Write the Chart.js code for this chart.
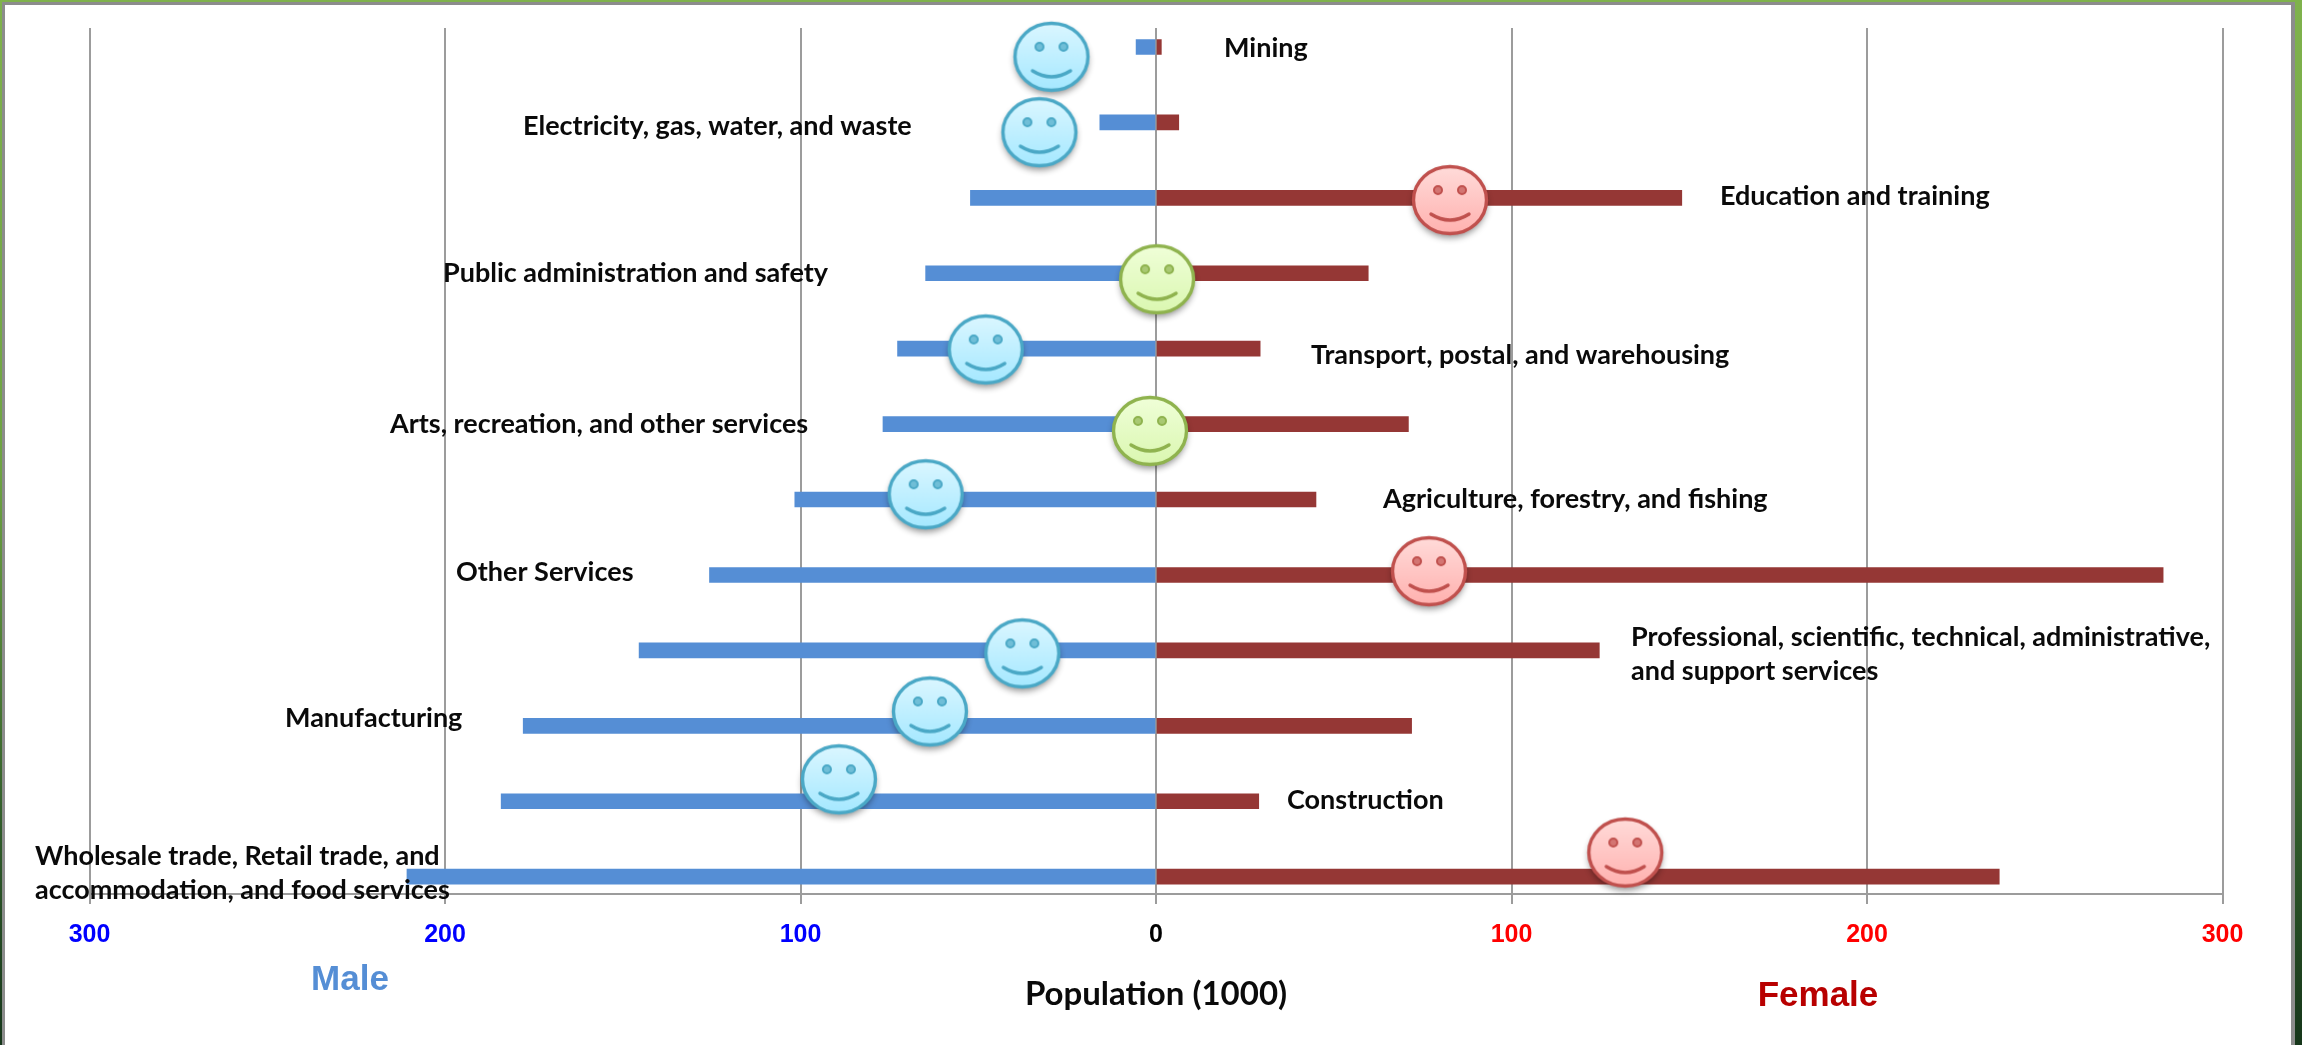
<!DOCTYPE html>
<html>
<head>
<meta charset="utf-8">
<title>Population by industry</title>
<script src="https://cdn.jsdelivr.net/npm/chart.js@4/dist/chart.umd.min.js"></script>
<style>
    html, body { margin: 0; padding: 0; }
    body {
        width: 2302px; height: 1045px; position: relative; overflow: hidden;
        background: linear-gradient(#7fb24c 0%, #6ea343 45%, #2f5a2a 80%, #16361a 100%);
    }
    #panel {
        position: absolute; left: 2px; top: 2px; width: 2286px; height: 1043px;
        background: #fff; border: solid #8c8c8c; border-width: 3px 4px 0 3px;
    }
    #chart { position: absolute; left: 0; top: 0; }
</style>
</head>
<body>
<div id="panel"></div>
<canvas id="chart" width="2302" height="1045"></canvas>
<script>
const industries = [
    "Mining",
    "Electricity, gas, water, and waste",
    "Education and training",
    "Public administration and safety",
    "Transport, postal, and warehousing",
    "Arts, recreation, and other services",
    "Agriculture, forestry, and fishing",
    "Other Services",
    "Professional, scientific, technical, administrative,|and support services",
    "Manufacturing",
    "Construction",
    "Wholesale trade, Retail trade, and|accommodation, and food services"
];
const maleValues = [5.6, 15.8, 52.2, 64.8, 72.7, 76.8, 101.6, 125.6, 145.4, 178, 184.2, 210.7];
const femaleValues = [1.5, 6.4, 147.9, 59.7, 29.3, 71, 45, 283.3, 124.7, 71.9, 28.9, 237.2];

// smiley faces sit on or near the bars, tone says who dominates the row
const smileyValues = [-29.4, -32.8, 82.7, 0.3, -47.9, -1.7, -64.8, 76.8, -37.6, -63.6, -89.2, 132];
const smileyRows = [0.13, 1.13, 2.03, 3.08, 4.01, 5.09, 5.93, 6.95, 8.04, 8.81, 9.71, 10.68];
const smileyTones = ["blue", "blue", "red", "green", "blue", "green", "blue", "red", "blue", "blue", "blue", "red"];

const axisTicks = [-300, -200, -100, 0, 100, 200, 300];

// left edge and vertical middle of each row label, in page pixels
const labelLeft = [1224, 523, 1720, 443, 1311, 390, 1383, 456, 1631, 285, 1287, 35];
const labelMiddle = [48, 126, 196, 273, 355, 424, 499, 572, 637, 718, 800, 856];
const labelLineGap = 34;

const faceColors = {
    blue: { line: "#4aa8c6", top: "#dcf7ff", bottom: "#a4e8ff" },
    red: { line: "#c0504d", top: "#ffdcda", bottom: "#ffb0ae" },
    green: { line: "#8fb34e", top: "#f0ffd9", bottom: "#daf7b0" }
};

function makeFace(tone) {
    const c = faceColors[tone];
    const face = document.createElement("canvas");
    face.width = 110;
    face.height = 100;
    const g = face.getContext("2d");
    g.translate(55, 50);

    const fill = g.createLinearGradient(0, -35, 0, 35);
    fill.addColorStop(0, c.top);
    fill.addColorStop(1, c.bottom);

    g.save();
    g.shadowColor = "rgba(0,0,0,0.45)";
    g.shadowBlur = 7;
    g.shadowOffsetY = 4;
    g.beginPath();
    g.ellipse(0, 0, 36.5, 33.5, 0, 0, Math.PI * 2);
    g.fillStyle = fill;
    g.fill();
    g.restore();

    g.strokeStyle = c.line;
    g.lineWidth = 3.4;
    g.beginPath();
    g.ellipse(0, 0, 36.5, 33.5, 0, 0, Math.PI * 2);
    g.stroke();

    // eyes
    [-12, 12].forEach(dx => {
        g.beginPath();
        g.ellipse(dx, -10, 4, 4, 0, 0, Math.PI * 2);
        g.fillStyle = c.line;
        g.globalAlpha = 0.7;
        g.fill();
        g.globalAlpha = 1;
        g.lineWidth = 2;
        g.stroke();
    });

    // mouth
    g.lineWidth = 3.4;
    g.lineCap = "round";
    g.beginPath();
    g.moveTo(-19, 14);
    g.quadraticCurveTo(0, 26, 19, 14);
    g.stroke();
    return face;
}

const faces = { blue: makeFace("blue"), red: makeFace("red"), green: makeFace("green") };

const rowLabels = {
    id: "rowLabels",
    afterDatasetsDraw(chart) {
        const ctx = chart.ctx;
        ctx.save();
        ctx.fillStyle = "#0a0a0a";
        ctx.font = "bold 27px Lato";
        ctx.textBaseline = "middle";
        ctx.textAlign = "left";
        industries.forEach((name, i) => {
            name.split("|").forEach((line, n) => {
                ctx.fillText(line, labelLeft[i], labelMiddle[i] + n * labelLineGap);
            });
        });

        ctx.textAlign = "center";
        ctx.font = "bold 33px Lato";
        ctx.fillText("Population (1000)", 1156, 994);

        ctx.font = "bold 35px 'Liberation Sans'";
        ctx.fillStyle = "#558ed5";
        ctx.fillText("Male", 350, 980);
        ctx.fillStyle = "#b80000";
        ctx.fillText("Female", 1818, 996);
        ctx.restore();
    }
};

const config = {
    type: "bar",
    data: {
        datasets: [
            {
                type: "scatter",
                order: 0,
                clip: false,
                data: smileyValues.map((v, i) => ({ x: v, y: smileyRows[i] })),
                pointStyle: smileyTones.map(t => faces[t]),
                pointRadius: 38
            },
            {
                order: 1,
                grouped: false,
                barThickness: 15,
                backgroundColor: "#558ed5",
                data: maleValues.map((v, i) => ({ x: -v, y: i }))
            },
            {
                order: 1,
                grouped: false,
                barThickness: 15,
                backgroundColor: "#953735",
                data: femaleValues.map((v, i) => ({ x: v, y: i }))
            }
        ]
    },
    options: {
        indexAxis: "y",
        responsive: false,
        animation: false,
        layout: { autoPadding: false, padding: { left: 89.5, right: 79.5, top: 28, bottom: 0 } },
        plugins: { legend: { display: false }, tooltip: { enabled: false } },
        scales: {
            x: {
                type: "linear",
                position: "bottom",
                min: -300,
                max: 300,
                afterBuildTicks: axis => { axis.ticks = axisTicks.map(value => ({ value })); },
                afterFit: axis => { axis.height = 151; },
                grid: { color: "#9c9c9c", lineWidth: 2, tickLength: 10, tickColor: "#9c9c9c" },
                border: { color: "#9c9c9c", width: 2 },
                ticks: {
                    padding: 16,
                    font: { family: "'Liberation Sans'", weight: "bold", size: 25 },
                    color: c => c.tick.value < 0 ? "#0000ff" : (c.tick.value > 0 ? "#ff0000" : "#000000"),
                    callback: v => Math.abs(v),
                    maxRotation: 0
                }
            },
            y: {
                type: "linear",
                display: false,
                reverse: true,
                offset: false,
                min: -0.252,
                max: 11.23
            }
        }
    },
    plugins: [rowLabels]
};

new Chart(document.getElementById("chart"), config);
</script>
</body>
</html>
